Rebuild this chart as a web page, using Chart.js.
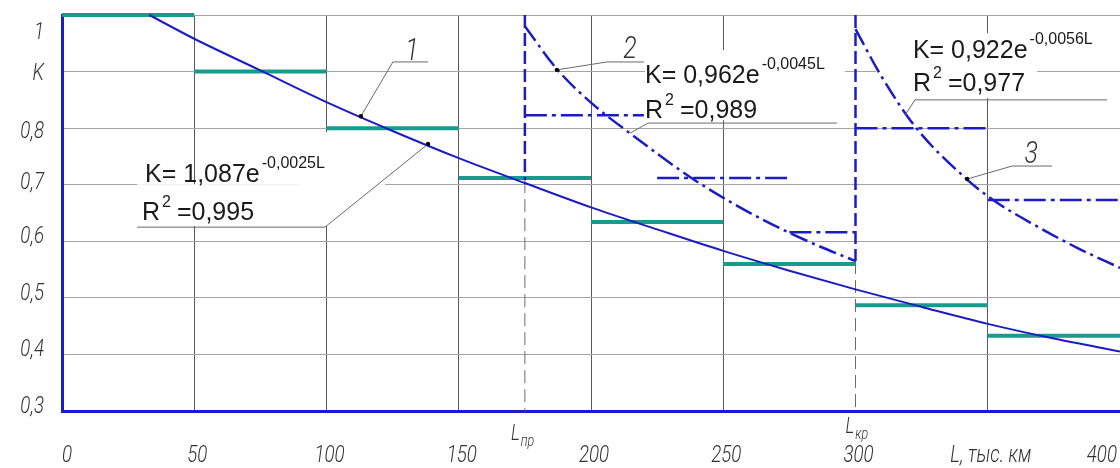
<!DOCTYPE html>
<html><head><meta charset="utf-8">
<script src="https://cdn.jsdelivr.net/npm/chart.js@4.4.1/dist/chart.umd.min.js"></script>
<style>html,body{margin:0;padding:0;background:#fff}canvas{display:block}</style>
</head><body>
<canvas id="c" width="1120" height="468"></canvas>
<script>
// ---------- data ----------
const xTicks = [0,50,100,150,200,250,300,350,400];
const xTickLabels = ['0','50','100','150','200','250','300','L, тыс. км','400'];
const yTicks = [0.3,0.4,0.5,0.6,0.7,0.8,0.9,1.0];
const yTickLabels = ['0,3','0,4','0,5','0,6','0,7','0,8','K','1'];

// measured mean K per 50 thousand km interval
const stepStart = [0,50,100,150,200,250,300,350];
const stepEnd   = [50,100,150,200,250,300,350,400];
const stepK     = [1.0,0.9,0.8,0.712,0.634,0.56,0.487,0.433];

// curve 1 (K = 1,087e^-0,0025L)
const curve1L = [33,50,75,100,125,150,175,200,225,250,275,300,325,350,375,400];
const curve1K = [1.0,0.958,0.902,0.846,0.795,0.747,0.703,0.660,0.621,0.583,0.548,0.515,0.484,0.454,0.428,0.405];
// curve 2 (after L_пр)
const curve2L = [175,187,200,215,237,250,265,283,300];
const curve2K = [0.98,0.905,0.845,0.79,0.715,0.677,0.638,0.598,0.565];
// curve 3 (after L_кр)
const curve3L = [300,310,323,342,352,368,384,400];
const curve3K = [0.975,0.89,0.80,0.71,0.673,0.628,0.588,0.553];

// K after restoration (dash-dot steps)
const regStart = [175,225,275,300,350];
const regEnd   = [220,275,300,350,400];
const regK     = [0.823,0.712,0.616,0.80,0.673];

const Lpr = 175, Lkr = 300;
const KprLow = 0.708, KkrLow = 0.565;

// ---------- helpers ----------
function segments(s, e, k) {
  const out = [];
  for (let i = 0; i < s.length; i++) {
    out.push({x:s[i], y:k[i]}, {x:e[i], y:k[i]}, {x:e[i], y:null});
  }
  return out;
}
function pts(L, K) { return L.map((l,i)=>({x:l, y:K[i]})); }

const BLUE = '#1c1cc6';
const TEAL = '#1a9a8c';

// annotation anchors (data units)
const ann = {
  box1a: [28.4,122,0.701,0.627], box1b: [90,122,0.793,0.627],
  box2: [220.4,296,0.938,0.814], box3: [307.8,368.6,0.968,0.853],
};

function tech(ctx, txt, x, y, size, align) {
  ctx.save();
  ctx.font = `italic 300 ${size}px Roboto, "DejaVu Sans", sans-serif`;
  ctx.fillStyle = '#333';
  ctx.textBaseline = 'alphabetic';
  ctx.textAlign = 'left';
  const sx = 0.78;
  const w = ctx.measureText(txt).width * sx;
  const x0 = align === 'center' ? x - w/2 : align === 'right' ? x - w : x;
  ctx.translate(x0, y); ctx.scale(sx, 1); ctx.fillText(txt, 0, 0);
  ctx.restore();
  return w;
}
function eq(ctx, x, y, main, sup, size) {
  ctx.save();
  ctx.fillStyle = '#1a1a1a';
  ctx.textBaseline = 'alphabetic'; ctx.textAlign = 'left';
  ctx.font = `${size}px "Liberation Sans", Arial, sans-serif`;
  ctx.fillText(main, x, y);
  const w = ctx.measureText(main).width;
  ctx.font = `${Math.round(size*0.64)}px "Liberation Sans", Arial, sans-serif`;
  ctx.fillText(sup, x + w + 2, y - size*0.56);
  ctx.restore();
}
function r2(ctx, x, y, val, size) {
  ctx.save();
  ctx.fillStyle = '#1a1a1a';
  ctx.textBaseline = 'alphabetic'; ctx.textAlign = 'left';
  ctx.font = `${size}px "Liberation Sans", Arial, sans-serif`;
  ctx.fillText('R', x, y);
  const w = ctx.measureText('R').width;
  ctx.font = `${Math.round(size*0.64)}px "Liberation Sans", Arial, sans-serif`;
  ctx.fillText('2', x + w + 2, y - size*0.5);
  ctx.font = `${size}px "Liberation Sans", Arial, sans-serif`;
  ctx.fillText(' =' + val, x + w + 10, y);
  ctx.restore();
}

const decor = {
  id: 'decor',
  beforeDatasetsDraw(chart) {
    const {ctx} = chart; const X = v=>chart.scales.x.getPixelForValue(v), Y = v=>chart.scales.y.getPixelForValue(v);
    ctx.save(); ctx.fillStyle = '#fff';
    for (const k of ['box1a','box1b','box2','box3']) {
      const b = ann[k];
      ctx.fillRect(X(b[0]), Y(b[2]), X(b[1]) - X(b[0]), Y(b[3]) - Y(b[2]));
    }
    ctx.restore();
  },
  afterDraw(chart) {
    const {ctx} = chart; const X = v=>chart.scales.x.getPixelForValue(v), Y = v=>chart.scales.y.getPixelForValue(v);
    // leader lines
    const leaders = [
      [[28.4,0.625],[99.4,0.625],[138.4,0.772]],
      [[138.4,0.917],[125.1,0.917],[113,0.821]],
      [[220,0.917],[206,0.917],[187.1,0.903]],
      [[293,0.809],[221.6,0.809],[214.7,0.791]],
      [[395.1,0.85],[322.5,0.85],[318.7,0.823]],
      [[374.3,0.733],[359.2,0.733],[342.2,0.71]],
    ];
    ctx.save(); ctx.strokeStyle = '#6a6a6a'; ctx.lineWidth = 1;
    for (const l of leaders) {
      ctx.beginPath(); ctx.moveTo(X(l[0][0]), Y(l[0][1]));
      for (let i=1;i<l.length;i++) ctx.lineTo(X(l[i][0]), Y(l[i][1]));
      ctx.stroke();
    }
    ctx.fillStyle = '#000';
    for (const d of [[138.4,0.772],[113,0.821],[187.1,0.903],[342.2,0.71]]) {
      ctx.beginPath(); ctx.arc(X(d[0]), Y(d[1]), 2.2, 0, Math.PI*2); ctx.fill();
    }
    ctx.restore();

    // equations
    eq(ctx, X(31.4), Y(0.705), 'K= 1,087e', '-0,0025L', 25);
    r2(ctx, X(30.2), Y(0.638), '0,995', 25);
    eq(ctx, X(220.4), Y(0.88), 'K= 0,962e', '-0,0045L', 25);
    r2(ctx, X(220.4), Y(0.818), '0,989', 25);
    eq(ctx, X(321.7), Y(0.924), 'K= 0,922e', '-0,0056L', 25);
    r2(ctx, X(321.7), Y(0.866), '0,977', 25);

    // curve numbers
    tech(ctx, '1', X(132.3), Y(0.92), 32, 'center');
    tech(ctx, '2', X(214.7), Y(0.924), 32, 'center');
    tech(ctx, '3', X(366.4), Y(0.738), 32, 'center');

    // y tick labels
    const yDy = [-6,-6,-6,-6,-4,2,0,16];
    yTicks.forEach((v,i) => tech(ctx, yTickLabels[i], 44, Y(v) + yDy[i] + 8, 24, 'right'));
    // x tick labels
    xTicks.forEach((v,i) => {
      if (i === 0) tech(ctx, xTickLabels[i], X(v), 462, 24, 'left');
      else if (i === xTicks.length-1) tech(ctx, xTickLabels[i], X(v) - 3, 462, 24, 'right');
      else tech(ctx, xTickLabels[i], X(v) + 3, 462, 24, 'center');
    });
    // L_пр and L_кр
    let w = tech(ctx, 'L', X(Lpr) - 14, 440, 22, 'left');
    tech(ctx, 'пр', X(Lpr) - 14 + w + 1, 446, 16, 'left');
    w = tech(ctx, 'L', X(Lkr) - 10, 433, 22, 'left');
    tech(ctx, 'кр', X(Lkr) - 10 + w + 1, 439, 16, 'left');
  }
};

new Chart(document.getElementById('c'), {
  type: 'line',
  data: {
    datasets: [
      { label:'curve1', data: pts(curve1L, curve1K), borderColor: BLUE, borderWidth: 2, cubicInterpolationMode:'monotone', pointRadius:0, order:0 },
      { label:'curve2', data: pts(curve2L, curve2K), borderColor: BLUE, borderWidth: 2.5, borderDash:[18,5,3,5], cubicInterpolationMode:'monotone', pointRadius:0, order:1 },
      { label:'curve3', data: pts(curve3L, curve3K), borderColor: BLUE, borderWidth: 2.5, borderDash:[18,5,3,5], cubicInterpolationMode:'monotone', pointRadius:0, order:1 },
      { label:'restored', data: segments(regStart, regEnd, regK), borderColor: BLUE, borderWidth: 2.5, borderDash:[22,5,4,5], pointRadius:0, spanGaps:false, order:2 },
      { label:'bounds', data: [{x:Lpr,y:1},{x:Lpr,y:KprLow},{x:Lpr,y:null},{x:Lkr,y:1},{x:Lkr,y:KkrLow}], borderColor: BLUE, borderWidth: 2.5, borderDash:[13,5], pointRadius:0, spanGaps:false, order:2 },
      { label:'boundsThin', data: [{x:Lpr,y:KprLow},{x:Lpr,y:0.3},{x:Lpr,y:null},{x:Lkr,y:KkrLow},{x:Lkr,y:0.3}], borderColor: '#6a6a6a', borderWidth: 1, borderDash:[13,6], pointRadius:0, spanGaps:false, order:4 },
      { label:'steps', data: segments(stepStart, stepEnd, stepK), borderColor: TEAL, borderWidth: 4, pointRadius:0, spanGaps:false, order:3 },
    ]
  },
  options: {
    responsive: false, animation: false, events: [],
    clip: false,
    layout: { padding: { top: 15, left: 0, right: 0, bottom: 0 } },
    plugins: { legend: { display: false }, tooltip: { enabled: false } },
    elements: { line: { tension: 0, borderCapStyle: 'butt' } },
    scales: {
      x: { type: 'linear', min: 0, max: 400,
        ticks: { display: false, stepSize: 50 },
        grid: { color: c => (c.tick && c.tick.value === Lkr) ? 'rgba(0,0,0,0)' : '#5a5a5a', lineWidth: 1, drawTicks: false },
        border: { color: BLUE, width: 3 },
        afterFit: s => { s.height = 57; s.paddingLeft = 0; s.paddingRight = 0; } },
      y: { type: 'linear', min: 0.3, max: 1.0,
        ticks: { display: false, stepSize: 0.1 },
        grid: { color: '#a5a5a5', lineWidth: 1, drawTicks: false },
        border: { color: BLUE, width: 3 },
        afterFit: s => { s.width = 62; s.paddingTop = 0; s.paddingBottom = 0; } },
    }
  },
  plugins: [decor]
});
</script>
</body></html>
